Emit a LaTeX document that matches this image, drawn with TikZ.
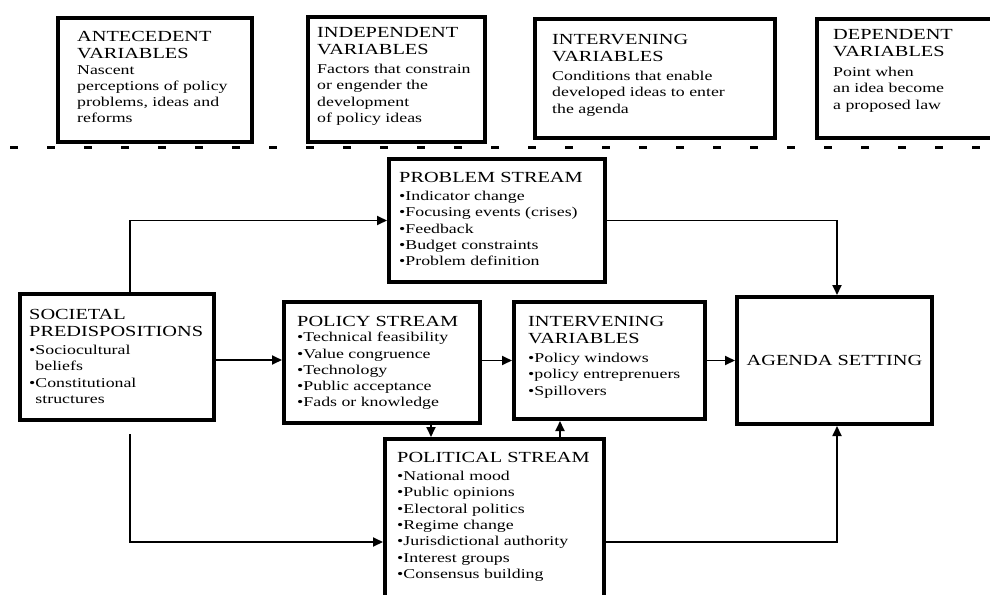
\documentclass[tikz,border=0pt]{standalone}
\usepackage{fontspec}
\setmainfont{Liberation Serif}[FakeStretch=1.32]
\usetikzlibrary{arrows.meta}

\newcommand{\hdfont}{\fontsize{15.4}{17.5}\selectfont}
\newcommand{\bdfont}{\fontsize{13.5}{16.3}\selectfont}

\tikzset{
  box/.style={draw, line width=4pt, anchor=north west, inner sep=0pt},
  txt/.style={anchor=north west, inner sep=0pt, align=left},
  hd/.style={txt, font=\hdfont},
  bd/.style={txt, font=\bdfont},
  conn/.style={line width=1.8pt, -{Triangle[length=10pt,width=9pt]}},
  sep/.style={line width=3pt, dash pattern=on 8pt off 29pt}
}

\begin{document}
\begin{tikzpicture}[x=1pt,y=-1pt]
\useasboundingbox (0,0) rectangle (990,594);

% ---- variable classes (top row) ----
\node[box, minimum width=194pt, minimum height=124pt] (ant)  at (56,16)  {};
\node[box, minimum width=177pt, minimum height=125pt] (ind)  at (306,15) {};
\node[box, minimum width=240pt, minimum height=119pt] (intT) at (533,17) {};
\node[box, minimum width=190pt, minimum height=119pt] (dep)  at (815,17) {};

\node[hd] (ant-h) at (77,31) {ANTECEDENT\\VARIABLES};
\node[bd] (ant-b) at (77,65) {Nascent\\perceptions of policy\\problems, ideas and\\reforms};
\node[hd] (ind-h) at (317,27) {INDEPENDENT\\VARIABLES};
\node[bd] (ind-b) at (317,64) {Factors that constrain\\or engender the\\development\\of policy ideas};
\node[hd] (intT-h) at (552,34) {INTERVENING\\VARIABLES};
\node[bd] (intT-b) at (552,71) {Conditions that enable\\developed ideas to enter\\the agenda};
\node[hd] (dep-h) at (833,29) {DEPENDENT\\VARIABLES};
\node[bd] (dep-b) at (833,67) {Point when\\an idea become\\a proposed law};

% ---- separator ----
\draw[sep] (10,147) -- (995,147);

% ---- streams model ----
\node[box, minimum width=216pt, minimum height=123pt] (prob)   at (387,157) {};
\node[box, minimum width=194pt, minimum height=126pt] (soc)    at (18,292)  {};
\node[box, minimum width=196pt, minimum height=121pt] (pol)    at (282,300) {};
\node[box, minimum width=191pt, minimum height=117pt] (intV)   at (512,300) {};
\node[box, minimum width=195pt, minimum height=127pt, font=\hdfont] (agenda) at (735,295) {AGENDA SETTING};
\node[box, minimum width=219pt, minimum height=206pt] (polit)  at (383,437) {};

\node[hd] (prob-h) at (399,172) {PROBLEM STREAM};
\node[bd] (prob-b) at (399,191) {•Indicator change\\•Focusing events (crises)\\•Feedback\\•Budget constraints\\•Problem definition};
\node[hd] (soc-h) at (29,309) {SOCIETAL\\PREDISPOSITIONS};
\node[bd] (soc-b) at (29,345) {•Sociocultural\\\hphantom{•}beliefs\\•Constitutional\\\hphantom{•}structures};
\node[hd] (pol-h) at (297,316) {POLICY STREAM};
\node[bd] (pol-b) at (297,332) {•Technical feasibility\\•Value congruence\\•Technology\\•Public acceptance\\•Fads or knowledge};
\node[hd] (intV-h) at (528,316) {INTERVENING\\VARIABLES};
\node[bd] (intV-b) at (528,353) {•Policy windows\\•policy entreprenuers\\•Spillovers};
\node[hd] (polit-h) at (397,452) {POLITICAL STREAM};
\node[bd] (polit-b) at (397,471) {•National mood\\•Public opinions\\•Electoral politics\\•Regime change\\•Jurisdictional authority\\•Interest groups\\•Consensus building};

% ---- connectors ----
\draw[conn] ([xshift=13pt]soc.north) |- (prob.west);
\draw[conn] (prob.east) -| ([xshift=2.5pt]agenda.north);
\draw[conn] ([yshift=-3pt]soc.east) -- ([yshift=-3pt]soc.east -| pol.west);
\draw[conn] ([yshift=2pt]pol.east) -- ([yshift=2pt]pol.east -| intV.west);
\draw[conn] (intV.east) -- (intV.east -| agenda.west);
\draw[conn] ([xshift=49pt]pol.south) -- ([xshift=49pt]pol.south |- polit.north);
\draw[conn] ([xshift=-49.5pt]intV.south |- polit.north) -- ([xshift=-49.5pt]intV.south);
\draw[conn] ([xshift=13pt,yshift=-12pt]soc.south) |- (polit.west);
\draw[conn] (polit.east) -| ([xshift=2.5pt]agenda.south);
\end{tikzpicture}
\end{document}
